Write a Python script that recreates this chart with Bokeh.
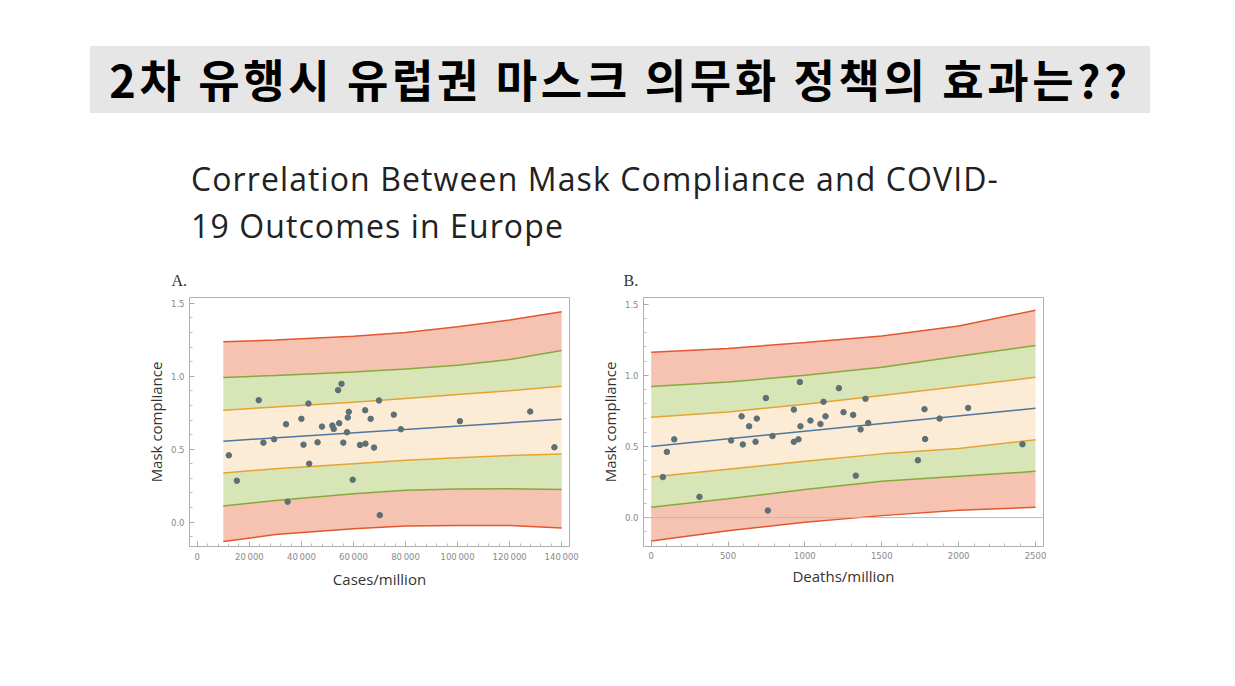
from bokeh.plotting import figure
from bokeh.models import Div, FixedTicker, Span
from bokeh.layouts import column, row
from bokeh.embed import file_html
from bokeh.resources import INLINE

# ---- data: panel A (cases/million) ----
a_x = [12100, 15200, 23600, 25400, 29500, 34100, 34700, 40000, 40800, 42700, 43000, 46200, 47900,
       51900, 52400, 54100, 54500, 55400, 56100, 57500, 57800, 58200, 59700, 62500, 64500, 64600,
       66600, 67900, 69800, 70100, 75500, 78200, 100900, 127900, 137200]
a_y = [0.458, 0.284, 0.836, 0.545, 0.568, 0.671, 0.140, 0.708, 0.531, 0.813, 0.401, 0.547, 0.655,
       0.662, 0.639, 0.905, 0.678, 0.948, 0.545, 0.616, 0.717, 0.756, 0.291, 0.529, 0.767, 0.538,
       0.708, 0.511, 0.834, 0.048, 0.737, 0.637, 0.692, 0.758, 0.513]
a_band_x = [10000, 30000, 60000, 80000, 100000, 120000, 140000]
a_red_hi = [1.237, 1.248, 1.275, 1.300, 1.340, 1.385, 1.443]
a_green_hi = [0.992, 1.005, 1.030, 1.050, 1.076, 1.115, 1.177]
a_orange_hi = [0.767, 0.790, 0.822, 0.847, 0.875, 0.900, 0.932]
a_orange_lo = [0.337, 0.366, 0.401, 0.424, 0.442, 0.456, 0.467]
a_green_lo = [0.110, 0.149, 0.195, 0.218, 0.227, 0.229, 0.224]
a_red_lo = [-0.133, -0.085, -0.046, -0.027, -0.023, -0.023, -0.041]
a_fit_x = [10000, 140000]
a_fit_y = [0.555, 0.705]
a_ticks = [0, 20000, 40000, 60000, 80000, 100000, 120000, 140000]
a_tick_labels = ["0", "20\u2009000", "40\u2009000", "60\u2009000", "80\u2009000", "100\u2009000", "120\u2009000", "140\u2009000"]

# ---- data: panel B (deaths/million) ----
b_x = [76, 102, 150, 314, 520, 588, 596, 637, 679, 687, 746, 759, 789, 928, 928, 958, 967, 971,
       1036, 1101, 1121, 1134, 1221, 1251, 1314, 1331, 1362, 1394, 1412, 1735, 1778, 1782, 1876, 2062, 2415]
b_y = [0.285, 0.462, 0.550, 0.146, 0.542, 0.712, 0.514, 0.642, 0.533, 0.696, 0.840, 0.050, 0.573,
       0.759, 0.533, 0.550, 0.953, 0.642, 0.682, 0.658, 0.814, 0.712, 0.910, 0.741, 0.722, 0.295,
       0.620, 0.835, 0.665, 0.403, 0.762, 0.552, 0.696, 0.771, 0.516]
b_band_x = [0, 500, 1000, 1500, 2000, 2500]
b_red_hi = [1.163, 1.189, 1.231, 1.276, 1.347, 1.458]
b_green_hi = [0.922, 0.953, 1.000, 1.057, 1.134, 1.210]
b_orange_hi = [0.705, 0.743, 0.797, 0.858, 0.922, 0.986]
b_orange_lo = [0.285, 0.340, 0.396, 0.448, 0.486, 0.547]
b_green_lo = [0.073, 0.132, 0.198, 0.255, 0.290, 0.325]
b_red_lo = [-0.165, -0.092, -0.033, 0.014, 0.052, 0.073]
b_fit_x = [0, 2500]
b_fit_y = [0.500, 0.769]
b_ticks = [0, 500, 1000, 1500, 2000, 2500]

y_ticks = [0.0, 0.5, 1.0, 1.5]
y_tick_labels = ["0.0", "0.5", "1.0", "1.5"]

RED_F, RED_L = "#f6c3b3", "#e4572e"
GRN_F, GRN_L = "#d7e5b7", "#86a93a"
ORG_F, ORG_L = "#fcecd6", "#e5a334"
FIT_L = "#4d76a0"
PT = "#5c7075"


def panel(title, xr, yr, bx, rh, gh, oh, ol, gl, rl, fx, fy, px, py, xt, xlabels, xlabel,
          left, right, fw, zero_line, offset):
    p = figure(output_backend="svg", toolbar_location=None, x_range=xr, y_range=yr,
               frame_width=fw, frame_height=249, min_border_left=left, min_border_right=right,
               min_border_top=34, min_border_bottom=62, title=title)
    p.title.text_font = "Liberation Serif"
    p.title.text_font_size = "16px"
    p.title.text_font_style = "normal"
    p.title.text_color = "#333333"
    p.title.offset = offset
    p.title.standoff = 18
    p.grid.visible = False
    p.outline_line_color = "#b0b0b0"
    p.background_fill_color = "white"
    p.border_fill_color = "white"
    p.varea(x=bx, y1=gh, y2=rh, fill_color=RED_F)
    p.varea(x=bx, y1=rl, y2=gl, fill_color=RED_F)
    p.varea(x=bx, y1=oh, y2=gh, fill_color=GRN_F)
    p.varea(x=bx, y1=gl, y2=ol, fill_color=GRN_F)
    p.varea(x=bx, y1=ol, y2=oh, fill_color=ORG_F)
    if zero_line:
        p.add_layout(Span(location=0, dimension="width", line_color="#bbbbbb", line_width=1))
    for arr, c in [(rh, RED_L), (rl, RED_L), (gh, GRN_L), (gl, GRN_L), (oh, ORG_L), (ol, ORG_L)]:
        p.line(bx, arr, line_color=c, line_width=1.5)
    p.line(fx, fy, line_color=FIT_L, line_width=1.5)
    p.scatter(px, py, size=5.5, fill_color=PT, line_color=PT)

    p.xaxis.ticker = FixedTicker(ticks=xt, minor_ticks=[t + (xt[1] - xt[0]) * k / 5 for t in xt for k in range(1, 5)])
    p.xaxis.major_label_overrides = {t: l for t, l in zip(xt, xlabels)}
    p.yaxis.ticker = FixedTicker(ticks=y_ticks, minor_ticks=[round(t + 0.1 * k, 2) for t in [-0.5] + y_ticks for k in range(1, 5)])
    p.yaxis.major_label_overrides = {t: l for t, l in zip(y_ticks, y_tick_labels)}
    p.xaxis.axis_label = xlabel
    p.yaxis.axis_label = "Mask compliance"
    for ax in p.xaxis + p.yaxis:
        ax.axis_line_color = "#b0b0b0"
        ax.major_tick_line_color = "#aaaaaa"
        ax.minor_tick_line_color = "#bbbbbb"
        ax.major_tick_in = 5
        ax.major_tick_out = 0
        ax.minor_tick_in = 3
        ax.minor_tick_out = 0
        ax.major_label_text_font = "DejaVu Sans"
        ax.major_label_text_font_size = "8.5px"
        ax.major_label_text_color = "#888888"
        ax.axis_label_text_font = "Open Sans"
        ax.axis_label_text_font_size = "15px"
        ax.axis_label_text_font_style = "normal"
        ax.axis_label_text_color = "#333333"
    p.xaxis.axis_label_standoff = 4
    p.yaxis.axis_label_standoff = 2
    return p


pa = panel("A.", (-3000, 143000), (-0.167, 1.54), a_band_x, a_red_hi, a_green_hi, a_orange_hi,
           a_orange_lo, a_green_lo, a_red_lo, a_fit_x, a_fit_y, a_x, a_y, a_ticks, a_tick_labels,
           "Cases/million", 189, 12, 380, False, -18)
pb = panel("B.", (-50, 2552), (-0.203, 1.547), b_band_x, b_red_hi, b_green_hi, b_orange_hi,
           b_orange_lo, b_green_lo, b_red_lo, b_fit_x, b_fit_y, b_x, b_y, b_ticks,
           [str(t) for t in b_ticks], "Deaths/million", 62, 24, 400, True, -20)

header = Div(width=1219, height=250, styles={"position": "relative"}, text="""
<div style="position:absolute;left:85px;top:41px;width:1060px;height:67px;background:#e6e6e6;
display:flex;align-items:center;justify-content:center;font-family:'Noto Sans CJK KR';
font-weight:bold;font-size:45px;letter-spacing:3.6px;color:#000;white-space:nowrap;">2차 유행시 유럽권 마스크 의무화 정책의 효과는??</div>
<div style="position:absolute;left:186px;top:150px;width:950px;font-family:'Open Sans';
font-size:32px;letter-spacing:1.1px;line-height:47px;color:#222;white-space:nowrap;">Correlation Between Mask Compliance and COVID-<br>19 Outcomes in Europe</div>
""")

layout = column(header, row(pa, pb, spacing=0), spacing=0)
open("out.html", "w").write(file_html(layout, INLINE))
